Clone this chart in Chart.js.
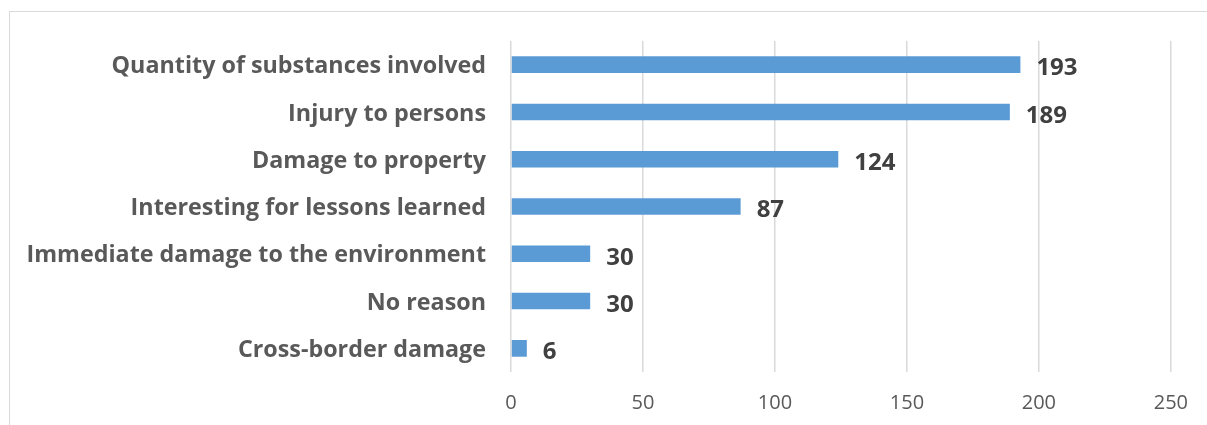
<!DOCTYPE html>
<html lang="en">
<head>
    <meta charset="UTF-8">
    <title>Reasons for reporting</title>
    <style>
        body { margin: 0; background: #fff; }
        .wrap { position: relative; width: 1207px; height: 425px; overflow: hidden; }
        .frame { position: absolute; left: 9px; top: 11px; width: 1210px; height: 430px; border: 1.5px solid #d9d9d9; }
        canvas { position: absolute; left: 0; top: 0; }
    </style>
    <script src="https://cdn.jsdelivr.net/npm/chart.js"></script>
</head>
<body>
    <div class="wrap">
        <div class="frame"></div>
        <canvas id="reasonChart" width="1207" height="425"></canvas>
    </div>

    <script>
        const categories = [
            "Quantity of substances involved",
            "Injury to persons",
            "Damage to property",
            "Interesting for lessons learned",
            "Immediate damage to the environment",
            "No reason",
            "Cross-border damage"
        ];
        const counts = [193, 189, 124, 87, 30, 30, 6];
        const xTicks = [0, 50, 100, 150, 200, 250];

        // value labels to the right of each bar
        const valueLabels = {
            id: 'valueLabels',
            afterDatasetsDraw(chart) {
                const ctx = chart.ctx;
                const meta = chart.getDatasetMeta(0);
                ctx.save();
                ctx.font = "bold 24px 'Open Sans'";
                ctx.fillStyle = "#404040";
                ctx.textBaseline = "middle";
                ctx.textAlign = "left";
                meta.data.forEach((bar, i) => {
                    ctx.fillText(counts[i], bar.x + 16, bar.y + 4);
                });
                ctx.restore();
            }
        };

        window.onload = function() {
            const ctx = document.getElementById('reasonChart').getContext('2d');
            new Chart(ctx, {
                type: 'bar',
                data: {
                    labels: categories,
                    datasets: [{
                        data: counts,
                        backgroundColor: "#5b9bd5",
                        barPercentage: 0.35,
                        categoryPercentage: 1.0
                    }]
                },
                options: {
                    indexAxis: 'y',
                    responsive: false,
                    animation: false,
                    layout: { padding: { top: 41, right: 36, bottom: 0, left: 0 } },
                    plugins: {
                        legend: { display: false },
                        tooltip: { enabled: false }
                    },
                    scales: {
                        x: {
                            min: 0,
                            max: 250,
                            afterBuildTicks: scale => { scale.ticks = xTicks.map(v => ({ value: v })); },
                            afterFit: scale => { scale.height = 53; },
                            grid: { color: "#d9d9d9", lineWidth: 1.5, drawTicks: false },
                            border: { display: false },
                            ticks: {
                                padding: 19,
                                color: "#595959",
                                font: { family: "'Open Sans'", size: 20 }
                            }
                        },
                        y: {
                            afterFit: scale => { scale.width = 511; },
                            grid: { display: false, drawTicks: false },
                            border: { display: false },
                            ticks: {
                                padding: 25,
                                labelOffset: 2,
                                color: "#595959",
                                font: { family: "'Open Sans'", size: 23.3, weight: 'bold' }
                            }
                        }
                    }
                },
                plugins: [valueLabels]
            });
        };
    </script>
</body>
</html>
